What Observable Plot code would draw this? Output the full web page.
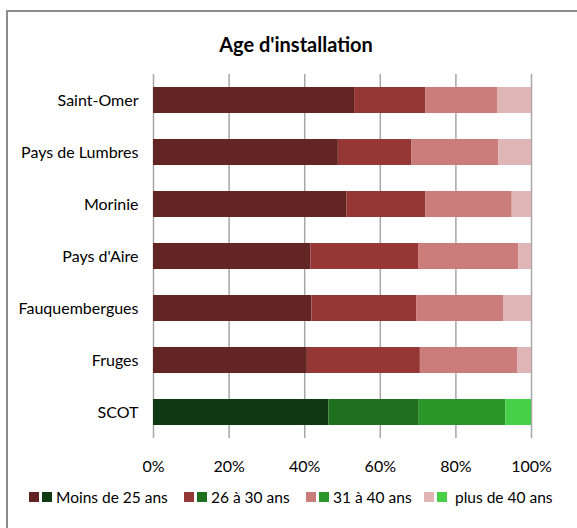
<!DOCTYPE html>
<html>
<head>
<meta charset="utf-8">
<script src="https://cdn.jsdelivr.net/npm/d3@7"></script>
<script src="https://cdn.jsdelivr.net/npm/@observablehq/plot@0.6"></script>
<style>
  body { margin: 0; background: #fff; }
  #wrap { position: relative; width: 577px; height: 528px; overflow: hidden; font-family: Lato, "Open Sans", sans-serif; }
  #frame { position: absolute; left: 6px; top: 10px; width: 600px; height: 600px; border-left: 2px solid #8c8c8c; border-top: 2px solid #8c8c8c; }
  #title { position: absolute; left: 146px; width: 300px; top: 32px; text-align: center; font-weight: bold; font-size: 20px; color: #000; }
  #chart { position: absolute; left: 0; top: 0; }
  #legend { position: absolute; top: 488px; left: 0; width: 577px; font-size: 15.5px; color: #000; }
  .item { position: absolute; display: flex; align-items: center; white-space: nowrap; }
  .sw { width: 10px; height: 10px; margin-right: 3px; display: inline-block; }
</style>
</head>
<body>
<div id="wrap">
  <div id="frame"></div>
  <div id="chart"></div>
  <div id="title">Age d'installation</div>
  <div id="legend"></div>
</div>
<script>
const regions = ["Saint-Omer", "Pays de Lumbres", "Morinie", "Pays d'Aire", "Fauquembergues", "Fruges", "SCOT"];
const series = ["Moins de 25 ans", "26 à 30 ans", "31 à 40 ans", "plus de 40 ans"];
const moins25 = [53.2, 48.9, 51.2, 41.7, 41.9, 40.7, 46.4];
const de26a30 = [18.9, 19.5, 20.9, 28.4, 27.7, 29.9, 23.9];
const de31a40 = [18.9, 22.9, 22.8, 26.5, 23.0, 25.7, 22.9];
const plus40  = [9.0, 8.7, 5.1, 3.4, 7.4, 3.7, 6.8];
const xTicks = [0, 20, 40, 60, 80, 100];
const redPalette = ["#632524", "#953735", "#ca7d7b", "#dfb6b5"];
const greenPalette = ["#0f3a12", "#1e6f1e", "#2a962a", "#47cf47"];

const valuesBySeries = [moins25, de26a30, de31a40, plus40];
const rows = [];
regions.forEach((r, i) => {
  series.forEach((s, j) => {
    rows.push({region: r, series: s, si: j, value: valuesBySeries[j][i]});
  });
});

const fillOf = d => (d.region === "SCOT" ? greenPalette : redPalette)[d.si];

const chart = Plot.plot({
  width: 577,
  height: 480,
  marginLeft: 153,
  marginRight: 46,
  marginTop: 74,
  marginBottom: 42,
  style: {fontFamily: "Lato, 'Open Sans', sans-serif", fontSize: "16px", color: "#000", background: "transparent"},
  x: {domain: [0, 100], ticks: xTicks, tickFormat: d => d + "%", tickSize: 0, tickPadding: 22, label: null},
  y: {domain: regions, paddingInner: 0.5, paddingOuter: 0.25, tickSize: 0, tickPadding: 15, label: null},
  color: {type: "identity"},
  marks: [
    Plot.ruleX(xTicks, {stroke: "#a6a6a6", strokeWidth: 1.5, strokeOpacity: 1}),
    Plot.barX(rows, Plot.stackX({x: "value", y: "region", z: "series", fill: fillOf, inset: 0}))
  ]
});
document.getElementById("chart").appendChild(chart);

const legend = document.getElementById("legend");
const lefts = [29, 184, 306, 424];
series.forEach((s, j) => {
  const it = document.createElement("div");
  it.className = "item";
  it.style.left = lefts[j] + "px";
  const a = document.createElement("span"); a.className = "sw"; a.style.background = redPalette[j];
  const b = document.createElement("span"); b.className = "sw"; b.style.background = greenPalette[j];
  const t = document.createElement("span"); t.textContent = s; t.style.marginLeft = (j === 3 ? 5 : 1) + "px";
  it.append(a, b, t);
  legend.appendChild(it);
});
</script>
</body>
</html>
